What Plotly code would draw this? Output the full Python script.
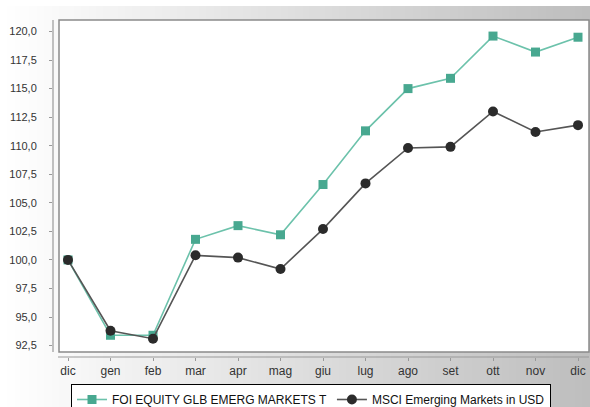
import plotly.graph_objects as go

months = ["dic", "gen", "feb", "mar", "apr", "mag", "giu", "lug", "ago", "set", "ott", "nov", "dic"]
foi = [100.0, 93.4, 93.4, 101.8, 103.0, 102.2, 106.6, 111.3, 115.0, 115.9, 119.6, 118.2, 119.5]
msci = [100.0, 93.8, 93.1, 100.4, 100.2, 99.2, 102.7, 106.7, 109.8, 109.9, 113.0, 111.2, 111.8]
y_ticks = [92.5, 95.0, 97.5, 100.0, 102.5, 105.0, 107.5, 110.0, 112.5, 115.0, 117.5, 120.0]
y_tick_text = [f"{v:.1f}".replace(".", ",") for v in y_ticks]

W, H = 590, 407
L, R, T, B = 53, 1, 20, 50
pw, ph = W - L - R, H - T - B

def px(x):
    return (x - L) / pw

def py(y):
    return (H - B - y) / ph

xs = list(range(len(months)))

fig = go.Figure()
fig.add_trace(go.Scatter(
    x=xs, y=foi, mode="lines+markers", name="FOI EQUITY GLB EMERG MARKETS T",
    line=dict(color="#6cc2ab", width=1.6),
    marker=dict(symbol="square", size=9, color="#48a890"),
))
fig.add_trace(go.Scatter(
    x=xs, y=msci, mode="lines+markers", name="MSCI Emerging Markets in USD",
    line=dict(color="#555555", width=1.6),
    marker=dict(symbol="circle", size=10, color="#2b2b2b"),
))

shapes = []
# horizontal gradient background (white -> gray), starting a few px below top
N = 80
for i in range(N):
    t = i / (N - 1)
    c = int(round(255 - t * (255 - 190)))
    x0 = -L / pw + (W / pw) * i / N
    x1 = -L / pw + (W / pw) * (i + 1) / N + 0.002
    shapes.append(dict(type="rect", xref="paper", yref="paper", x0=x0, x1=x1,
                       y0=py(H), y1=py(6), fillcolor=f"rgb({c},{c},{c})",
                       line=dict(width=0), layer="below"))
# white plot box with gray border
shapes.append(dict(type="rect", xref="paper", yref="paper", x0=px(59), x1=px(589),
                   y0=py(352), y1=py(20), fillcolor="white",
                   line=dict(color="#8a8a8a", width=1.5), layer="below"))
# separated axis lines
shapes.append(dict(type="line", xref="paper", yref="paper", x0=px(53), x1=px(53),
                   y0=py(352), y1=py(20), line=dict(color="#999999", width=1.2), layer="below"))
shapes.append(dict(type="line", xref="paper", yref="paper", x0=px(58), x1=px(589),
                   y0=py(357), y1=py(357), line=dict(color="#999999", width=1.2), layer="below"))

fig.update_layout(
    width=W, height=H,
    margin=dict(l=L, r=R, t=T, b=B, autoexpand=False),
    paper_bgcolor="white",
    plot_bgcolor="rgba(0,0,0,0)",
    shapes=shapes,
    showlegend=True,
    legend=dict(orientation="h", xref="container", yref="container",
                x=71 / W, y=(H - 384) / H, xanchor="left", yanchor="top",
                bgcolor="white", bordercolor="black", borderwidth=1,
                font=dict(family="Liberation Sans, Arial, sans-serif", size=12, color="#111111"),
                itemwidth=30, tracegroupgap=0),
    xaxis=dict(
        range=[(53 - 68) / 42.5, (589 - 68) / 42.5],
        tickmode="array", tickvals=xs, ticktext=months,
        showgrid=False, zeroline=False, showline=False,
        ticks="outside", ticklen=3, tickcolor="#999999",
        tickfont=dict(family="Liberation Sans, Arial, sans-serif", size=12, color="#333333"),
        fixedrange=True, automargin=False,
    ),
    yaxis=dict(
        range=[120 - (357 - 31.5) / 11.42, 120 + 11.5 / 11.42],
        tickmode="array", tickvals=y_ticks, ticktext=y_tick_text,
        showgrid=False, zeroline=False, showline=False,
        ticks="outside", ticklen=3, tickcolor="#999999",
        ticklabelstandoff=10,
        tickfont=dict(family="Liberation Sans, Arial, sans-serif", size=11, color="#333333"),
        fixedrange=True, automargin=False,
    ),
)

fig.write_html("out.html", config={"displayModeBar": False},
               post_script="document.body.style.margin='0';document.body.style.padding='0';")
